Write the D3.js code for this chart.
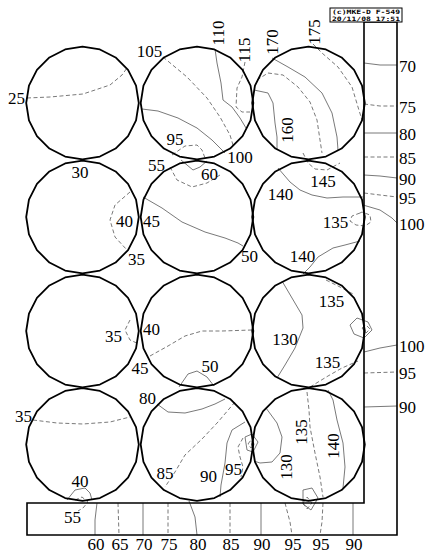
<!DOCTYPE html>
<html><head><meta charset="utf-8">
<script src="https://cdn.jsdelivr.net/npm/d3@7"></script>
<style>body{margin:0;background:#fff}svg{display:block}</style>
</head><body>
<svg id="chart" width="427" height="553"></svg>
<script>
// Plotter sheet units: origin at the top-left corner of the frame, y grows downwards.
const colCentres = [55.5, 170, 281.5];
const rowCentres = [81, 195, 309, 422.5];
const circleRadius = 56.3;
const circleSides = 20;

// Frame corners (L-shaped strip on the right and at the bottom)
const frameInnerX = 337, frameOuterX = 370, frameTopY = 0, frameInnerY = 481, frameOuterY = 513;

// Contour lines inside the circles
const circleContours = [
  {level: 25,  pts: [[0,76],[23,75],[56,72],[83,63],[95,53],[100,46]]},
  {level: 105, pts: [[136,35],[160,55],[180,76],[193,95],[203,113],[206,123]]},
  {level: 100, pts: [[115,87],[131,89],[151,96],[170,106],[185,118],[195,128],[198,131]]},
  {level: 110, pts: [[188,27],[190,41],[194,61],[196,78],[205,85],[213,96],[219,106]]},
  {level: 115, pts: [[218,40],[215,55],[210,66],[209,85],[215,90],[223,90]]},
  {level: 95,  pts: [[145,133],[158,124],[170,123],[175,128],[178,136]]},
  {level: 160, pts: [[227,68],[241,71],[246,81],[248,101],[250,115],[250,128]]},
  {level: 165, pts: [[230,58],[241,51],[256,53],[271,65],[283,80],[290,98],[293,118],[295,131]]},
  {level: 170, pts: [[245,36],[261,45],[278,55],[295,71],[305,91],[310,115],[311,128]]},
  {level: 175, pts: [[286,22],[295,31],[311,45],[325,65],[331,85],[335,98]]},
  {level: 35,  pts: [[103,170],[88,183],[83,198],[88,215],[100,228]]},
  {level: 55,  pts: [[143,145],[150,158],[165,165],[180,161],[193,153]]},
  {level: 60,  pts: [[154,138],[166,148],[173,145],[180,139]]},
  {level: 50,  pts: [[116,175],[135,186],[155,200],[178,210],[198,216],[211,221],[216,224]]},
  {level: 145, pts: [[276,131],[281,141],[288,147],[300,148],[313,141]]},
  {level: 140, pts: [[251,146],[263,160],[273,168],[285,173],[300,176],[316,175],[336,175]]},
  {level: 140, pts: [[276,252],[283,245],[291,235],[306,226],[318,223],[333,219]]},
  {level: 135, closed: true, pts: [[333,191],[325,194],[323,199],[329,203],[338,204],[344,200],[343,193],[335,190]]},
  {level: 35,  pts: [[103,298],[98,308],[103,318],[112,322]]},
  {level: 45,  pts: [[123,334],[141,324],[158,314],[175,309],[195,309],[225,308]]},
  {level: 50,  pts: [[152,365],[161,352],[170,349],[180,355],[187,364]]},
  {level: 130, pts: [[255,259],[265,276],[275,293],[276,306],[268,326],[258,343],[250,356]]},
  {level: 135, pts: [[299,258],[313,265],[326,272]]},
  {level: 135, pts: [[283,365],[301,354],[315,346],[331,339]]},
  {level: 140, closed: true, pts: [[323,303],[330,296],[341,300],[345,308],[337,316],[327,312]]},
  {level: 135, closed: true, pts: [[335,306],[339,303],[343,307],[339,311]]},
  {level: 35,  pts: [[6,398],[30,401],[56,402],[83,400],[103,395]]},
  {level: 40,  pts: [[40,478],[48,468],[58,466],[63,471],[65,478]]},
  {level: 55,  pts: [[48,478],[55,475],[61,480],[56,486],[51,489]]},
  {level: 80,  pts: [[130,382],[141,390],[158,391],[175,387],[188,382],[198,377]]},
  {level: 85,  pts: [[208,380],[191,400],[175,417],[158,433],[148,450],[138,465]]},
  {level: 90,  pts: [[218,400],[205,408],[200,421],[198,441],[194,463],[193,475]]},
  {level: 95,  pts: [[216,416],[211,425],[213,435],[216,445],[214,455]]},
  {level: 90,  closed: true, pts: [[218,415],[225,412],[231,420],[226,430],[220,428]]},
  {level: 95,  closed: true, pts: [[221,422],[224,418],[227,422],[224,426]]},
  {level: 130, pts: [[239,386],[250,401],[255,415],[253,431],[245,440],[233,441],[227,439]]},
  {level: 135, pts: [[280,370],[282,388],[283,405],[288,431],[293,455],[296,475]]},
  {level: 140, pts: [[301,368],[306,378],[310,398],[316,421],[318,445],[316,466]]},
  {level: 130, closed: true, pts: [[276,468],[285,466],[291,476],[284,488],[276,482]]},
  {level: 135, closed: true, pts: [[276,481],[280,475],[285,481],[280,487]]}
];

// Contours crossing the right-hand strip (labelled at their right end)
const rightStripLines = [
  {level: 70,  pts: [[337,41],[353,43],[370,43]]},
  {level: 75,  pts: [[337,82],[353,84],[370,84]]},
  {level: 80,  pts: [[337,111],[370,111]]},
  {level: 85,  pts: [[337,135],[370,135]]},
  {level: 90,  pts: [[337,153],[353,154],[370,156]]},
  {level: 95,  pts: [[337,171],[353,173],[370,175]]},
  {level: 100, pts: [[336,183],[353,188],[365,196],[370,201]]},
  {level: 100, pts: [[337,330],[353,326],[370,323]]},
  {level: 95,  pts: [[337,351],[370,350]]},
  {level: 90,  pts: [[337,385],[370,384]]}
];

// Contours crossing the bottom strip (labelled below their lower end)
const bottomStripLines = [
  {level: 60, pts: [[70,481],[68,498],[68,513]]},
  {level: 65, pts: [[91,481],[92,513]]},
  {level: 70, pts: [[116,481],[116,513]]},
  {level: 75, pts: [[141,481],[141,513]]},
  {level: 80, pts: [[162,479],[168,495],[170,513]]},
  {level: 85, pts: [[203,481],[203,513]]},
  {level: 90, pts: [[234,481],[234,513]]},
  {level: 95, pts: [[258,481],[263,500],[265,513]]},
  {level: 95, pts: [[296,481],[295,500],[293,513]]},
  {level: 90, pts: [[326,481],[326,513]]}
];

// Level labels inside the circles: [text, x, y]
const circleLabels = [
  ["25",-10.5,76],["30",53,150],["105",122.5,29],["95",148,117],["100",213,135.5],
  ["55",129.5,143],["60",182.5,152],["145",296,159],["140",253.5,172],["40",97.5,199],
  ["45",124.5,199],["135",308.5,200.5],["35",109.5,237],["50",222.5,234],["140",275.5,234],
  ["135",304.5,279.5],["130",258,317.5],["35",86.5,314.5],["40",124.5,307],["135",300.5,340],
  ["45",113,346.5],["50",183,344],["80",120.5,376],["35",-3.5,394],["85",138,451.5],
  ["90",181.5,454.5],["95",206.5,447],["40",53,459],["55",45.5,495.5]
];
// Level labels written along the contour (reading upwards)
const verticalLabels = [
  ["110",191,11],["115",217,28],["170",245,20],["175",287,10],["160",260,108],
  ["130",259,445],["135",274,410],["140",306,424]
];

const headerLines = ["(c)MKE-D F-549", "20/11/08 17:51"];

const svg = d3.select("#chart");
const x = d3.scaleLinear().domain([0, 370]).range([27, 397]);
const y = d3.scaleLinear().domain([0, 513]).range([22, 535]);

const line = d3.line().x(d => x(d[0])).y(d => y(d[1]));
const closedLine = d3.line().x(d => x(d[0])).y(d => y(d[1])).curve(d3.curveLinearClosed);
const dashFor = lv => (lv % 10 === 0 ? null : "4,2.5");

function drawContours(data) {
  svg.append("g").selectAll("path").data(data).join("path")
    .attr("d", d => (d.closed ? closedLine : line)(d.pts))
    .attr("fill", "none")
    .attr("stroke", "#6a6a6a")
    .attr("stroke-width", 0.9)
    .attr("stroke-dasharray", d => dashFor(d.level));
}
drawContours(circleContours);
drawContours(rightStripLines);
drawContours(bottomStripLines);

// Circles drawn as plotter polygons
const cells = [];
rowCentres.forEach(cy => colCentres.forEach(cx => cells.push([cx, cy])));
const poly = ([cx, cy]) => d3.range(circleSides).map(i => {
  const a = -Math.PI / 2 + i * 2 * Math.PI / circleSides;
  return [cx + circleRadius * Math.cos(a), cy + circleRadius * Math.sin(a)];
});
svg.append("g").selectAll("path").data(cells).join("path")
  .attr("d", d => closedLine(poly(d)))
  .attr("fill", "none").attr("stroke", "#000").attr("stroke-width", 1.8)
  .attr("stroke-linejoin", "round");

// L-shaped frame
const frame = [[0, frameInnerY], [frameInnerX, frameInnerY], [frameInnerX, frameTopY],
  [frameOuterX, frameTopY], [frameOuterX, frameOuterY], [0, frameOuterY]];
svg.append("path").attr("d", closedLine(frame))
  .attr("fill", "none").attr("stroke", "#000").attr("stroke-width", 1.6);

const font = "Liberation Serif, Times New Roman, serif";
const fs = 17;

svg.append("g").selectAll("text").data(circleLabels).join("text")
  .attr("x", d => x(d[1])).attr("y", d => y(d[2]))
  .attr("text-anchor", "middle").attr("dominant-baseline", "central")
  .attr("font-family", font).attr("font-size", fs).text(d => d[0]);

svg.append("g").selectAll("text").data(verticalLabels).join("text")
  .attr("transform", d => `translate(${x(d[1])},${y(d[2])}) rotate(-90)`)
  .attr("text-anchor", "middle").attr("dominant-baseline", "central")
  .attr("font-family", font).attr("font-size", fs).text(d => d[0]);

svg.append("g").selectAll("text").data(rightStripLines).join("text")
  .attr("x", d => x(d.pts[d.pts.length - 1][0]) + 2)
  .attr("y", d => y(d.pts[d.pts.length - 1][1]) + 1)
  .attr("dominant-baseline", "central")
  .attr("font-family", font).attr("font-size", fs).text(d => d.level);

svg.append("g").selectAll("text").data(bottomStripLines).join("text")
  .attr("x", d => x(d.pts[d.pts.length - 1][0]) + 1)
  .attr("y", d => y(d.pts[d.pts.length - 1][1]) + 15)
  .attr("text-anchor", "middle")
  .attr("font-family", font).attr("font-size", fs).text(d => d.level);

// Plot header box
const hb = svg.append("g");
hb.append("rect").attr("x", x(303)).attr("y", y(-14)).attr("width", x(375) - x(303)).attr("height", y(0) - y(-14))
  .attr("fill", "#fff").attr("stroke", "#000").attr("stroke-width", 1);
hb.selectAll("text").data(headerLines).join("text")
  .attr("x", x(305)).attr("y", (d, i) => y(-7.6 + i * 6.2))
  .attr("font-family", "DejaVu Sans Mono, monospace").attr("font-weight", "bold")
  .attr("font-size", 6).attr("textLength", x(373) - x(305)).attr("lengthAdjust", "spacingAndGlyphs")
  .text(d => d);
</script>
</body></html>
